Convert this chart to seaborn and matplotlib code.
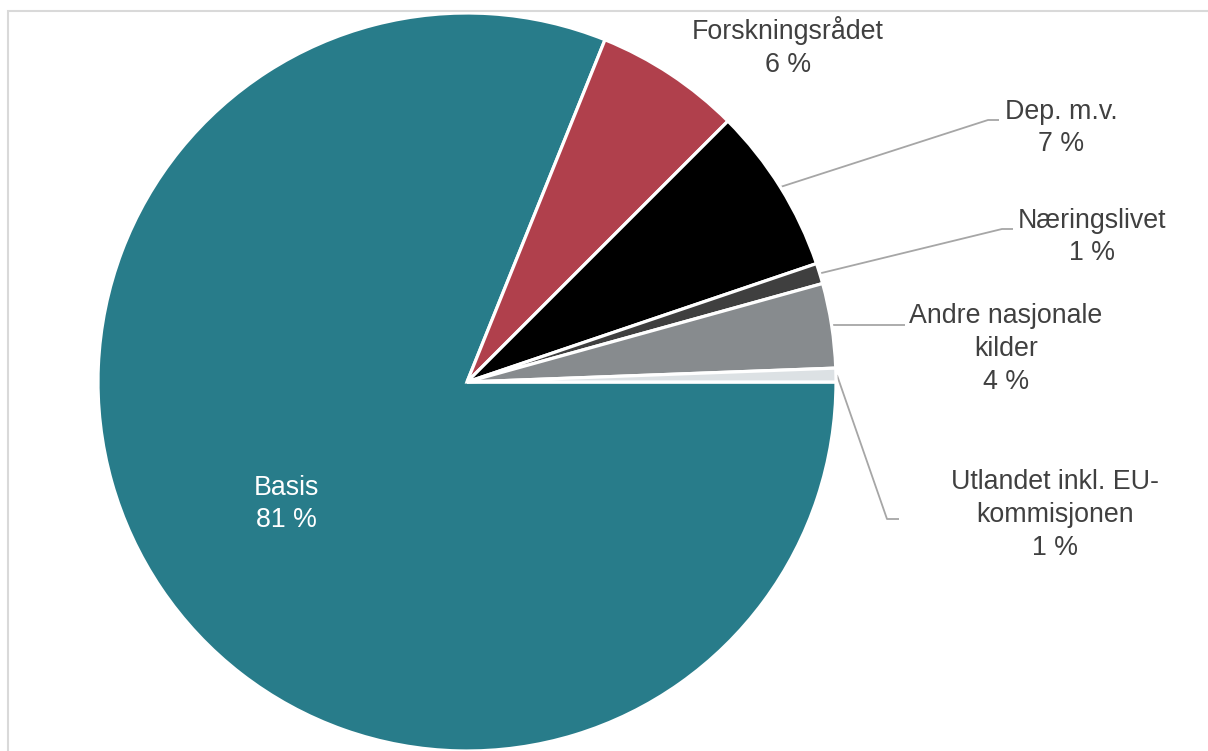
import numpy as np
import matplotlib
matplotlib.use("Agg")
import matplotlib.pyplot as plt
import seaborn as sns
from matplotlib.patches import Rectangle

# Funding sources (share of total, %)
categories = ["Basis", "Forskningsrådet", "Dep. m.v.", "Næringslivet",
              "Andre nasjonale\nkilder", "Utlandet inkl. EU-\nkommisjonen"]
shares = [81.1, 6.4, 7.3, 0.9, 3.7, 0.6]
colors = ["#287C8A", "#B0404C", "#000000", "#3F3F3F", "#878B8E", "#DCE1E4"]

sns.set_theme(style="white")
plt.rcParams["font.family"] = ["Liberation Sans", "DejaVu Sans"]

W, H = 1208, 751
fig = plt.figure(figsize=(W / 100, H / 100), dpi=100)
ax = fig.add_axes([0, 0, 1, 1])

cx, cy, R = 467, H - 382, 369
wedges, _ = ax.pie(shares, colors=colors, startangle=0, counterclock=False,
                   center=(cx, cy), radius=R,
                   wedgeprops=dict(edgecolor="white", linewidth=2.3))
ax.set_xlim(0, W)
ax.set_ylim(0, H)
ax.set_aspect("auto")
ax.axis("off")

txt_color = "#404040"
fs = 19.3
lsp = 1.33


def label_text(i):
    return f"{categories[i]}\n{shares[i]:.0f} %"


def mid_point(w, r):
    a = np.deg2rad((w.theta1 + w.theta2) / 2)
    return cx + r * np.cos(a), cy + r * np.sin(a)


# Basis label inside its wedge
bx, by = mid_point(wedges[0], 0.59 * R)
ax.text(bx, by, label_text(0), ha="center", va="center", color="white",
        fontsize=fs, linespacing=lsp)

# Outside labels: (text centre, elbow, line end); None elbow y = follow anchor
outside = {
    1: ((788, H - 47), None, None),
    2: ((1061, H - 128), (988, H - 120), (999, H - 120)),
    3: ((1092, H - 237), (1002, H - 229), (1013, H - 229)),
    4: ((1006, H - 349), (905, None), (905, None)),
    5: ((1055, H - 515), (887, H - 519), (899, H - 519)),
}
for i, (pos, elbow, end) in outside.items():
    ax.text(pos[0], pos[1], label_text(i), ha="center", va="center",
            color=txt_color, fontsize=fs, linespacing=lsp)
    if elbow is not None:
        sx, sy = mid_point(wedges[i], R + 1)
        ey = sy if elbow[1] is None else elbow[1]
        fy = sy if end[1] is None else end[1]
        ax.plot([sx, elbow[0], end[0]], [sy, ey, fy],
                color="#A6A6A6", lw=1.3, solid_capstyle="butt", zorder=0)

# Chart frame
fig.add_artist(Rectangle((8 / W, -0.05), 1.1, (H - 11) / H + 0.05,
                         transform=fig.transFigure, fill=False,
                         edgecolor="#D9D9D9", lw=1.5))

fig.savefig("out.png", dpi=100)
